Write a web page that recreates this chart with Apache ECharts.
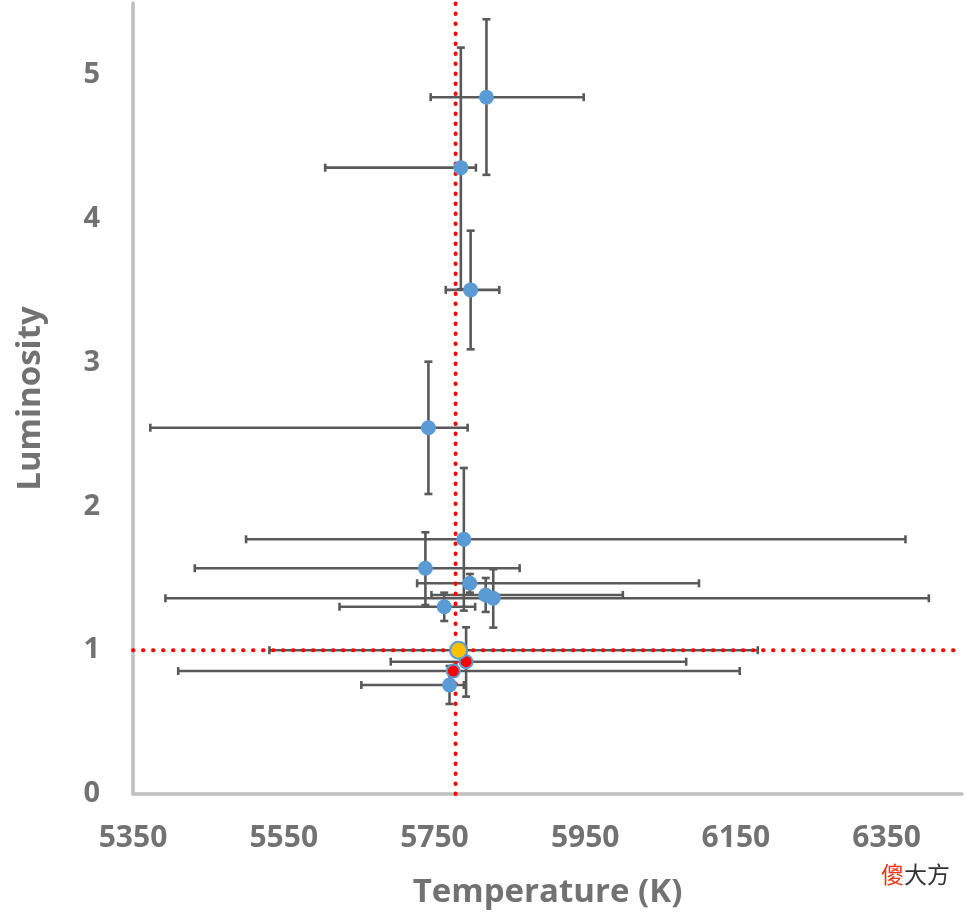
<!DOCTYPE html>
<html>
<head>
<meta charset="utf-8">
<script src="https://cdn.jsdelivr.net/npm/echarts@6/dist/echarts.min.js"></script>
<style>
html,body{margin:0;padding:0;background:#fff;}
#chart{width:971px;height:914px;}
</style>
</head>
<body>
<div id="chart"></div>
<script>
// ---- data ----
// blue stars
const starTemp   = [5819, 5785, 5798, 5742, 5789, 5738, 5797, 5818, 5828, 5763, 5770];
const starLum    = [4.845, 4.355, 3.505, 2.547, 1.771, 1.570, 1.465, 1.384, 1.361, 1.302, 0.758];
const starTempLo = [5745, 5605, 5765, 5373, 5500, 5432, 5727, 5746, 5393, 5624, 5653];
const starTempHi = [5948, 5805, 5836, 5794, 6375, 5863, 6101, 6000, 6406, 5804, 5789];
const starLumLo  = [4.305, 3.51, 3.092, 2.086, 1.275, 1.314, 1.40, 1.266, 1.157, 1.203, 0.626];
const starLumHi  = [5.387, 5.19, 3.917, 3.006, 2.267, 1.82, 1.53, 1.502, 1.563, 1.40, 0.89];
// red stars
const redTemp   = [5792, 5775];
const redLum    = [0.92, 0.855];
const redTempLo = [5692, 5410];
const redTempHi = [6084, 6155];
const redLumLo  = [0.677, 0.82];
const redLumHi  = [1.159, 0.89];
// the Sun (plotted point)
const sunTemp = [5782];
const sunLum = [1];
const sunTempLo = [5531];
const sunTempHi = [6179];
const sunLumLo = [0.95];
const sunLumHi = [1.05];
// solar reference lines
const refTemp = 5778;
const refLum = 1;
// axes
const xMin = 5350, xMax = 6450, xStep = 200;
const yMin = 0, yMax = 5.5, yStep = 1;
const xTitle = 'Temperature (K)';
const yTitle = 'Luminosity';

// ---- build ----
function errRows(t, l, tlo, thi, llo, lhi) {
  return t.map((v, i) => [v, l[i], tlo[i], thi[i], llo[i], lhi[i]]);
}
const errData = [].concat(
  errRows(starTemp, starLum, starTempLo, starTempHi, starLumLo, starLumHi),
  errRows(redTemp, redLum, redTempLo, redTempHi, redLumLo, redLumHi),
  errRows(sunTemp, sunLum, sunTempLo, sunTempHi, sunLumLo, sunLumHi)
);
const barColor = '#595959';
const cap = 4;
function renderErr(params, api) {
  const x = api.value(0), y = api.value(1);
  const xl = api.coord([api.value(2), y]);
  const xh = api.coord([api.value(3), y]);
  const yl = api.coord([x, api.value(4)]);
  const yh = api.coord([x, api.value(5)]);
  const st = {stroke: barColor, lineWidth: 2.6, fill: null};
  const children = [
    {type: 'line', shape: {x1: xl[0], y1: xl[1], x2: xh[0], y2: xh[1]}, style: st},
    {type: 'line', shape: {x1: xl[0], y1: xl[1] - cap, x2: xl[0], y2: xl[1] + cap}, style: st},
    {type: 'line', shape: {x1: xh[0], y1: xh[1] - cap, x2: xh[0], y2: xh[1] + cap}, style: st},
    {type: 'line', shape: {x1: yl[0], y1: yl[1], x2: yh[0], y2: yh[1]}, style: st},
    {type: 'line', shape: {x1: yl[0] - cap, y1: yl[1], x2: yl[0] + cap, y2: yl[1]}, style: st},
    {type: 'line', shape: {x1: yh[0] - cap, y1: yh[1], x2: yh[0] + cap, y2: yh[1]}, style: st}
  ];
  return {type: 'group', children: children};
}
const pts = (t, l) => t.map((v, i) => [v, l[i]]);

const labelColor = '#727272';
const fontFam = '"Open Sans", "Liberation Sans", sans-serif';
const dotted = {color: '#FF0000', width: 4, type: [0.5, 9.5], cap: 'round'};

const chart = echarts.init(document.getElementById('chart'));
chart.setOption({
  animation: false,
  backgroundColor: '#ffffff',
  grid: {left: 133, right: 9, top: 3, bottom: 120, containLabel: false, outerBoundsMode: 'none'},
  xAxis: {
    type: 'value', min: xMin, max: xMax, interval: xStep,
    name: xTitle, nameLocation: 'middle', nameGap: 82,
    nameTextStyle: {color: labelColor, fontSize: 33, fontWeight: 'bold', fontFamily: fontFam},
    axisLine: {show: true, onZero: false, lineStyle: {color: '#BFBFBF', width: 3.5}},
    axisTick: {show: false},
    splitLine: {show: false},
    axisLabel: {color: labelColor, fontSize: 30, fontWeight: 'bold', fontFamily: fontFam, margin: 29, showMaxLabel: false,
      formatter: v => String(v)}
  },
  yAxis: {
    type: 'value', min: yMin, max: yMax, interval: yStep,
    name: yTitle, nameLocation: 'middle', nameGap: 86, nameRotate: 90,
    nameTextStyle: {color: labelColor, fontSize: 33, fontWeight: 'bold', fontFamily: fontFam},
    axisLine: {show: true, onZero: false, lineStyle: {color: '#BFBFBF', width: 3.5}},
    axisTick: {show: false},
    splitLine: {show: false},
    axisLabel: {color: labelColor, fontSize: 29, fontWeight: 'bold', fontFamily: fontFam, margin: 33, showMaxLabel: false}
  },
  graphic: [{
    type: 'text', left: 881, top: 863, z: 100,
    style: {
      text: '{a|傻}{b|大方}',
      rich: {
        a: {fill: '#E8381B', fontSize: 23, fontFamily: '"Noto Sans CJK SC", sans-serif'},
        b: {fill: '#333333', fontSize: 23, fontFamily: '"Noto Sans CJK SC", sans-serif'}
      }
    }
  }],
  series: [
    {type: 'custom', renderItem: renderErr, data: errData, z: 2, silent: true, clip: false},
    {type: 'line', data: [[refTemp, yMin], [refTemp, yMax]], symbol: 'none', lineStyle: dotted, z: 3, silent: true},
    {type: 'line', data: [[xMin, refLum], [xMax, refLum]], symbol: 'none', lineStyle: dotted, z: 3, silent: true},
    {type: 'scatter', data: pts(starTemp, starLum), symbolSize: 15, itemStyle: {color: '#5B9BD5', opacity: 1}, z: 4},
    {type: 'scatter', data: pts(redTemp, redLum), symbolSize: 13, itemStyle: {color: '#FF0000', borderColor: '#5B9BD5', borderWidth: 2, opacity: 1}, z: 5},
    {type: 'scatter', data: pts(sunTemp, sunLum), symbolSize: 17, itemStyle: {color: '#FFC000', borderColor: '#5B9BD5', borderWidth: 2, opacity: 1}, z: 6}
  ]
});
</script>
</body>
</html>
